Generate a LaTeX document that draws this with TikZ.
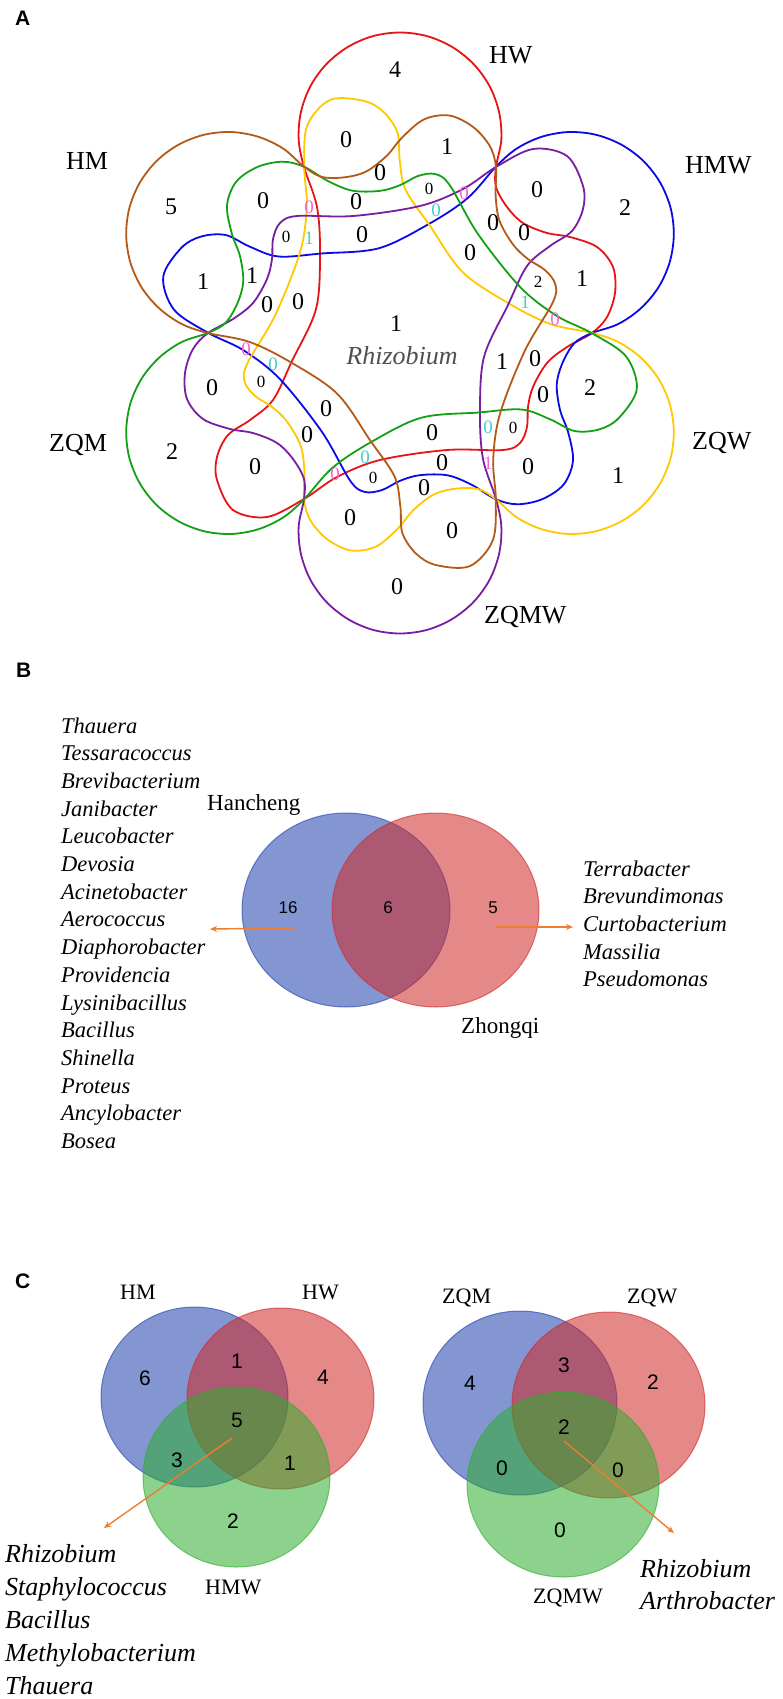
\documentclass[tikz,border=0pt]{standalone}
\usepackage{fontspec}
\setmainfont{Liberation Serif}
\setsansfont{Liberation Sans}
\usetikzlibrary{arrows.meta}
\definecolor{cRed}{RGB}{232,20,20}
\definecolor{cBlue}{RGB}{10,10,230}
\definecolor{cYellow}{RGB}{255,200,0}
\definecolor{cPurple}{RGB}{120,30,160}
\definecolor{cGreen}{RGB}{20,160,20}
\definecolor{cBrown}{RGB}{180,90,25}
\definecolor{cPink}{RGB}{245,100,215}
\definecolor{cCyan}{RGB}{70,205,200}
\definecolor{vBlue}{RGB}{31,64,173}
\definecolor{vRed}{RGB}{208,40,40}
\definecolor{vGreen}{RGB}{46,173,46}
\definecolor{cOrange}{RGB}{237,125,49}
\definecolor{cGray}{RGB}{80,80,80}
\tikzset{
  petal/.style={line width=1.8pt},
  num/.style={font=\fontsize{24}{28}\selectfont, inner sep=0pt},
  smallnum/.style={font=\fontsize{17}{20}\selectfont, inner sep=0pt},
  colnum/.style={font=\fontsize{19}{22}\selectfont, inner sep=0pt},
  setlabel/.style={font=\fontsize{26}{30}\selectfont, inner sep=0pt, anchor=base west},
  panel/.style={font=\sffamily\bfseries\fontsize{21}{24}\selectfont, inner sep=0pt, anchor=base west},
  genus/.style={font=\itshape\fontsize{22.5}{27}\selectfont, inner sep=0pt, anchor=base west},
  genusC/.style={font=\itshape\fontsize{26}{30}\selectfont, inner sep=0pt, anchor=base west},
  vlabel/.style={font=\fontsize{23}{27}\selectfont, inner sep=0pt, anchor=base west},
  vlabelC/.style={font=\fontsize{22}{26}\selectfont, inner sep=0pt, anchor=base west},
  vnumB/.style={font=\sffamily\fontsize{17}{20}\selectfont, inner sep=0pt},
  vnumC/.style={font=\sffamily\fontsize{21}{24}\selectfont, inner sep=0pt},
  oarrow/.style={draw=cOrange, line width=1.4pt, -{Stealth[length=7pt,width=6pt]}},
  vfill/.style={fill opacity=0.55, draw opacity=0.6, line width=1pt}
}
\begin{document}
\begin{tikzpicture}[x=1pt,y=-1pt]
\useasboundingbox (0,0) rectangle (782,1699);
\fill[white] (0,0) rectangle (782,1699);

% ---------------- Panel A ----------------
\node[panel] (pA) at (15,26) {A};
\begin{scope}[shift={(400,333)}, x=1pt, y=1pt]
\foreach \ang/\col in {0/cRed, -60/cBlue, -120/cYellow, -180/cPurple, -240/cGreen, -300/cBrown}{
  \draw[petal, draw=\col, rotate=\ang] plot[smooth cycle, tension=0.55] coordinates {
    (-96,166) (-101.3,193) (-99.2,220.3) (-89.9,246.2) (-73.9,268.6) (-52.4,285.9) (-27.3,296.8)
    (0,300.5) (27.3,296.8) (52.4,285.9) (73.9,268.6) (89.9,246.2) (99.2,220.3) (101.3,193) (96,166)
    (96,146) (107,126) (123,110) (147,100) (170,96) (197,86) (213,66) (215,40) (207,16) (192,0)
    (167,-14) (147,-30) (133,-54) (128,-74) (127,-94) (120,-110) (103,-117) (47,-117)
    (-20,-127) (-63,-144) (-96,-166) (-133,-184) (-167,-177) (-183,-147) (-183,-124)
    (-172,-102) (-150,-87) (-127,-67) (-108,-28) (-84,24) (-80,80) (-83,126)};
}
\end{scope}

\node[setlabel] (lHM) at (66,170) {HM};
\node[setlabel] (lHW) at (489,64) {HW};
\node[setlabel] (lHMW) at (685,174) {HMW};
\node[setlabel] (lZQW) at (692,449) {ZQW};
\node[setlabel] (lZQMW) at (484,623) {ZQMW};
\node[setlabel] (lZQM) at (49,451) {ZQM};

\foreach \x/\y/\t [count=\i] in {395/70/4, 346/140/0, 447/147/1, 380/173/0, 171/207/5, 263/201/0,
  356/202/0, 362/235/0, 537/190/0, 625/208/2, 493/223/0, 524/233/0, 470/253/0, 582/279/1,
  203/282/1, 252/276/1, 267/305/0, 298/302/0, 396/324/1, 212/388/0, 326/409/0, 307/435/0,
  172/452/2, 255/467/0, 350/518/0, 397/587/0, 502/362/1, 535/359/0, 543/395/0, 590/388/2,
  432/433/0, 442/463/0, 528/467/0, 618/476/1, 424/488/0, 452/531/0}
  \node[num] (fa\i) at (\x,\y) {\t};
\foreach \x/\y/\t [count=\i] in {286/237/0, 429/189/0, 538/282/2, 513/428/0, 373/478/0, 261/382/0}
  \node[smallnum] (fs\i) at (\x,\y) {\t};
\foreach \x/\y/\t [count=\i] in {309/207/0, 464/193/0, 555/319/0, 488/463/1, 335/474/0, 246/349/0}
  \node[colnum, text=cPink] (fp\i) at (\x,\y) {\t};
\foreach \x/\y/\t [count=\i] in {309/238/1, 436/210/0, 525/302/1, 488/427/0, 365/457/0, 273/364/0}
  \node[colnum, text=cCyan] (fc\i) at (\x,\y) {\t};
\node[font=\itshape\fontsize{26}{30}\selectfont, text=cGray, inner sep=0pt] (rhA) at (402,356) {Rhizobium};

% ---------------- Panel B ----------------
\node[panel] (pB) at (16,677) {B};
\fill[vBlue, vfill, draw=vBlue] (346,910) ellipse [x radius=104pt, y radius=97pt];
\fill[vRed, vfill, draw=vRed] (435.5,910) ellipse [x radius=103.5pt, y radius=97pt];
\node[vlabel] (hanch) at (207,810) {Hancheng};
\node[vlabel] (zhong) at (461,1033) {Zhongqi};
\node[vnumB] (b16) at (288,908) {16};
\node[vnumB] (b6) at (388,908) {6};
\node[vnumB] (b5) at (493,908) {5};
\coordinate (bl1) at (295,928);
\coordinate (bl2) at (210,929);
\coordinate (br1) at (496,927);
\coordinate (br2) at (573,927);
\draw[oarrow] (bl1) -- (bl2);
\draw[oarrow] (br1) -- (br2);
\foreach \g [count=\i from 0] in {Thauera, Tessaracoccus, Brevibacterium, Janibacter, Leucobacter,
  Devosia, Acinetobacter, Aerococcus, Diaphorobacter, Providencia, Lysinibacillus, Bacillus,
  Shinella, Proteus, Ancylobacter, Bosea}
  \node[genus] (gl\i) at (61,733+27.7*\i) {\g};
\foreach \g [count=\i from 0] in {Terrabacter, Brevundimonas, Curtobacterium, Massilia, Pseudomonas}
  \node[genus] (gr\i) at (583,876+27.7*\i) {\g};

% ---------------- Panel C ----------------
\node[panel] (pC) at (15,1288) {C};
% left Venn
\fill[vBlue, vfill, draw=vBlue] (194.5,1397) ellipse [x radius=93.5pt, y radius=90pt];
\fill[vRed, vfill, draw=vRed] (280.5,1398.5) ellipse [x radius=93.5pt, y radius=90.5pt];
\fill[vGreen, vfill, draw=vGreen] (236.5,1477) ellipse [x radius=93.5pt, y radius=90pt];
\node[vlabelC] (cHM) at (120,1299) {HM};
\node[vlabelC] (cHW) at (302,1299) {HW};
\node[vlabelC] (cHMW) at (205,1594) {HMW};
\foreach \x/\y/\t [count=\i] in {145/1378/6, 237/1361/1, 323/1377/4, 237/1420/5, 177/1460/3, 290/1463/1, 233/1521/2}
  \node[vnumC] (cl\i) at (\x,\y) {\t};
\coordinate (ca1) at (232,1438);
\coordinate (ca2) at (104,1528);
\draw[oarrow] (ca1) -- (ca2);
\foreach \g [count=\i from 0] in {Rhizobium, Staphylococcus, Bacillus, Methylobacterium, Thauera}
  \node[genusC] (cg\i) at (5,1562+33*\i) {\g};
% right Venn
\fill[vBlue, vfill, draw=vBlue] (520,1403) ellipse [x radius=97pt, y radius=92pt];
\fill[vRed, vfill, draw=vRed] (608.5,1405) ellipse [x radius=96.5pt, y radius=93pt];
\fill[vGreen, vfill, draw=vGreen] (563,1484.5) ellipse [x radius=96pt, y radius=92.5pt];
\node[vlabelC] (cZQM) at (442,1303) {ZQM};
\node[vlabelC] (cZQW) at (627,1303) {ZQW};
\node[vlabelC] (cZQMW) at (533,1603) {ZQMW};
\foreach \x/\y/\t [count=\i] in {470/1383/4, 564/1365/3, 653/1382/2, 564/1427/2, 502/1468/0, 618/1470/0, 560/1530/0}
  \node[vnumC] (cr\i) at (\x,\y) {\t};
\coordinate (cb1) at (564,1441);
\coordinate (cb2) at (674,1533);
\draw[oarrow] (cb1) -- (cb2);
\node[genusC] (ch0) at (640,1577) {Rhizobium};
\node[genusC] (ch1) at (640,1609) {Arthrobacter};
\end{tikzpicture}
\end{document}
